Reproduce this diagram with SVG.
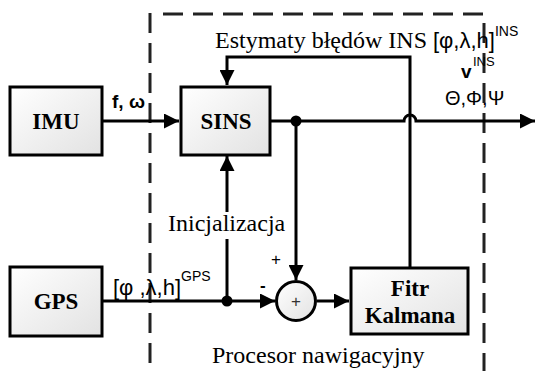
<svg xmlns="http://www.w3.org/2000/svg" width="537" height="371" viewBox="0 0 537 371">
<style>
.box{stroke:#000;stroke-width:3;fill:url(#g)}
.ln{stroke:#000;stroke-width:3;fill:none}
.lbl{font-family:"Liberation Serif",serif;font-weight:bold;font-size:23px;text-anchor:middle}
.serif{font-family:"Liberation Serif",serif;font-size:24px}
.sans{font-family:"Liberation Sans",Arial,sans-serif}
</style>
<defs>
<linearGradient id="g" x1="0" y1="0" x2="1" y2="1">
<stop offset="0" stop-color="#ffffff"/>
<stop offset="1" stop-color="#e2e2e2"/>
</linearGradient>
<marker id="ah" viewBox="0 0 10 10" refX="10" refY="5" markerWidth="5" markerHeight="5" orient="auto" markerUnits="strokeWidth">
<path d="M0,0 L10,5 L0,10 z" fill="#000"/>
</marker>
</defs>
<g id="frame">
<path d="M150,13 V371 M163,14 H484 V371" fill="none" stroke="#222" stroke-width="3" stroke-dasharray="20,10"/>
</g>
<g id="connectors">
<line class="ln" x1="102" y1="121" x2="179" y2="121" marker-end="url(#ah)"/>
<path class="ln" d="M410,267 V57 H227 V85" marker-end="url(#ah)"/>
<path class="ln" d="M270,121 H404 A6,6 0 0 1 416,121 H535" marker-end="url(#ah)"/>
<line class="ln" x1="296" y1="121" x2="296" y2="280" marker-end="url(#ah)"/>
<line class="ln" x1="317" y1="301" x2="349" y2="301" marker-end="url(#ah)"/>
<line class="ln" x1="102" y1="301" x2="275" y2="301" marker-end="url(#ah)"/>
<line class="ln" x1="227" y1="301" x2="227" y2="239"/>
<line class="ln" x1="227" y1="212" x2="227" y2="156" marker-end="url(#ah)"/>
<circle cx="296" cy="121" r="5.5" fill="#000"/>
<circle cx="227" cy="301" r="5.5" fill="#000"/>
</g>
<g id="IMU">
<rect class="box" x="10" y="87" width="92" height="68"/>
<text class="lbl" x="56" y="129">IMU</text>
</g>
<g id="SINS">
<rect class="box" x="181" y="87" width="89" height="68"/>
<text class="lbl" x="226" y="129">SINS</text>
</g>
<g id="GPS">
<rect class="box" x="10" y="267" width="92" height="69"/>
<text class="lbl" x="56" y="309">GPS</text>
</g>
<g id="Kalman">
<rect class="box" x="351" y="268" width="117" height="66"/>
<text class="lbl" x="410" y="296">Fitr</text>
<text class="lbl" x="410" y="323">Kalmana</text>
</g>
<g id="sum">
<circle cx="296" cy="301" r="19.5" stroke="#000" stroke-width="3" fill="url(#g)"/>
<text class="sans" x="296" y="307" font-size="17" text-anchor="middle" fill="#333">+</text>
</g>
<g id="labels">
<text class="sans" x="112" y="108" font-size="19" font-weight="bold">f, ω</text>
<text class="serif" x="215" y="48">Estymaty błędów INS <tspan class="sans" font-size="22">[φ,λ,h]</tspan><tspan class="sans" font-size="14" dy="-12">INS</tspan></text>
<text class="sans" x="461" y="78" font-size="19" font-weight="bold">v</text>
<text class="sans" x="473" y="66" font-size="13">INS</text>
<text class="sans" x="445" y="105" font-size="20">Θ,Φ,Ψ</text>
<text class="serif" x="168" y="231">Inicjalizacja</text>
<text class="sans" x="113" y="295" font-size="22">[φ ,λ,h]<tspan font-size="14" dy="-14">GPS</tspan></text>
<text class="sans" x="271" y="265" font-size="17">+</text>
<text class="sans" x="260" y="291" font-size="17" font-weight="bold">-</text>
<text class="serif" x="212" y="363">Procesor nawigacyjny</text>
</g>
</svg>
